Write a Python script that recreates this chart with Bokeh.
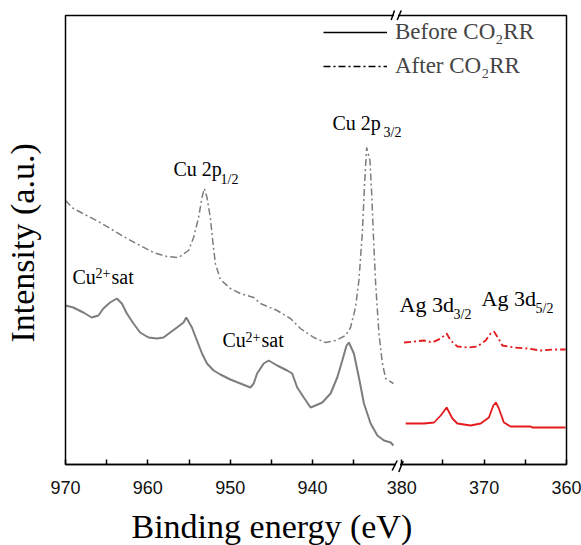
import numpy as np
from bokeh.plotting import figure
from bokeh.models import (FixedTicker, Label, Legend, LegendItem, Range1d, Arrow,
                          BoxAnnotation, CustomJSTickFormatter)
from bokeh.core.properties import value
from bokeh.embed import file_html
from bokeh.resources import INLINE

# ---------------- data ----------------
# Cu 2p region, before CO2RR (solid)
cu_before_be = [970.0, 969.05, 967.83, 966.81, 966.01, 965.40, 964.59, 963.77, 963.16, 962.55,
                961.75, 960.94, 959.93, 958.91, 958.10, 957.29, 956.47, 955.67, 955.34, 954.65,
                954.04, 953.43, 952.82, 952.02, 951.20, 949.99, 948.77, 947.55, 947.15, 946.74,
                945.94, 945.33, 944.31, 943.09, 942.48, 941.87, 941.07, 940.25, 939.65, 938.83,
                937.82, 937.01, 936.40, 935.88, 935.60, 934.99, 934.38, 933.77, 932.96, 932.14,
                931.34, 930.52, 930.19]
cu_before_int = [159, 157, 152, 147, 149, 156, 162, 166, 161, 151,
                 141, 132, 127, 126, 127, 132, 137, 142, 147, 137,
                 124, 111, 101, 94, 90, 85, 81, 77, 81, 91,
                 101, 104, 99, 94, 91, 77, 67, 57, 59, 62,
                 71, 87, 104, 119, 122, 111, 87, 61, 41, 29,
                 24, 22, 19]

# Cu 2p region, after CO2RR (dash-dot)
cu_after_be = [970.0, 969.05, 967.42, 965.80, 964.18, 962.55, 960.94, 959.32, 957.69, 956.28,
               955.06, 954.45, 953.84, 953.43, 953.15, 952.82, 952.42, 952.09, 951.81, 951.20,
               949.99, 948.77, 947.15, 946.34, 944.31, 942.69, 941.48, 939.85, 938.43, 937.22,
               936.00, 935.40, 934.79, 934.38, 933.97, 933.69, 933.44, 933.04, 932.83, 932.63,
               932.35, 931.95, 931.53, 931.13, 930.19]
cu_after_int = [264, 256, 249, 242, 234, 226, 219, 212, 208, 207,
                214, 227, 247, 267, 276, 267, 247, 221, 201, 185,
                176, 171, 167, 161, 154, 146, 136, 127, 122, 124,
                129, 137, 157, 184, 231, 281, 317, 304, 271, 231,
                181, 131, 101, 86, 81]

# Ag 3d region, before CO2RR (solid)
ag_before_be = [379.52, 377.30, 376.08, 375.27, 374.55, 373.85, 373.25, 371.64, 370.42, 369.42,
                368.88, 368.57, 368.21, 367.60, 366.79, 364.36, 364.16, 360.12]
ag_before_int = [41, 41, 42, 49, 57, 46, 41, 39, 41, 47,
                 59, 62, 56, 42, 38, 38, 37, 37]

# Ag 3d region, after CO2RR (dash-dot)
ag_after_be = [379.72, 378.51, 377.30, 376.28, 375.27, 374.55, 374.06, 373.25, 372.04, 370.82,
               369.82, 369.21, 368.81, 368.33, 367.79, 366.38, 364.76, 363.15, 361.52, 360.10]
ag_after_int = [122, 123, 124, 122, 126, 131, 124, 118, 117, 118,
                124, 131, 133, 127, 119, 117, 116, 114, 115, 115]

x_tick_values = [970, 960, 950, 940, 380, 370, 360]
x_tick_labels = ["970", "960", "950", "940", "380", "370", "360"]
x_minor_values = [965, 955, 945, 935, 375, 365]

series_labels = ["Before CO\u2082RR", "After CO\u2082RR"]
x_title = "Binding energy (eV)"
y_title = "Intensity (a.u.)"

# ---------------- layout ----------------
W, H = 581, 545
FL, FR, FT, FB = 65, 566, 15, 464  # plot-box edges in page pixels

CU_START, CU_END = 970.0, 929.67   # left segment of broken axis
AG_START, AG_END = 380.49, 360.0   # right segment of broken axis
SEG = CU_START - CU_END
X_MAX = SEG + (AG_START - AG_END)
Y_MAX = float(FB - FT)             # intensity units = pixels of the box
PXU = (FR - FL) / X_MAX            # pixels per axis unit


def axis_pos(e):
    """Map binding energy onto the broken (two-segment) axis."""
    e = np.asarray(e, dtype=float)
    return np.where(e > 600, CU_START - e, SEG + (AG_START - e))


def sx(px):
    return (px - FL) / PXU


def sy(py):
    return FB - py


GRAY = "#7d7d7d"
RED = "#e41a1c"
DASHDOT = "7 3 2 3"
SERIF = "Times New Roman"

# the frame spans the whole canvas; the plot box is drawn inside it
p = figure(width=W, height=H, output_backend="svg", toolbar_location=None, title=None,
           x_range=Range1d(sx(0), sx(W)), y_range=Range1d(sy(H), sy(0)),
           min_border=0)
p.background_fill_color = "white"
p.border_fill_color = "white"
p.outline_line_color = None
p.xgrid.visible = False
p.ygrid.visible = False
p.yaxis.visible = False

# plot box
p.add_layout(BoxAnnotation(left=0, right=X_MAX, bottom=0, top=Y_MAX, fill_alpha=0,
                           line_color="black", line_width=1.5, line_alpha=1))

# curves
p.line(axis_pos(cu_before_be), cu_before_int, line_color=GRAY, line_width=2)
p.line(axis_pos(cu_after_be), cu_after_int, line_color=GRAY, line_width=1.5, line_dash=DASHDOT)
p.line(axis_pos(ag_before_be), ag_before_int, line_color=RED, line_width=1.8)
p.line(axis_pos(ag_after_be), ag_after_int, line_color=RED, line_width=1.8, line_dash=DASHDOT)

# x axis, fixed at the bottom of the box
tick_pos = [float(v) for v in axis_pos(x_tick_values)]
xa = p.xaxis[0]
xa.fixed_location = 0
xa.bounds = (0, X_MAX)
xa.ticker = FixedTicker(ticks=tick_pos,
                        minor_ticks=[float(v) for v in axis_pos(x_minor_values)])
xa.formatter = CustomJSTickFormatter(args=dict(pos=tick_pos, lab=x_tick_labels), code="""
    let best = 0;
    for (let i = 0; i < pos.length; i++) {
        if (Math.abs(pos[i] - tick) < Math.abs(pos[best] - tick)) best = i;
    }
    return lab[best];
""")
xa.axis_line_color = "black"
xa.axis_line_width = 1.5
xa.major_tick_in = 5
xa.major_tick_out = 0
xa.minor_tick_in = 5
xa.minor_tick_out = 0
xa.major_tick_line_width = 1.5
xa.minor_tick_line_width = 1.5
xa.major_label_text_font = "Liberation Sans"
xa.major_label_text_font_size = "18px"
xa.major_label_text_color = "#111111"
xa.major_label_standoff = 16

# legend (black samples, as in the reference)
leg_b = p.line([np.nan], [np.nan], line_color="black", line_width=1.5)
leg_a = p.line([np.nan], [np.nan], line_color="black", line_width=1.5, line_dash=DASHDOT)
legend = Legend(items=[LegendItem(label=value(series_labels[0]), renderers=[leg_b]),
                       LegendItem(label=value(series_labels[1]), renderers=[leg_a])],
                location=(323, H - 79), glyph_width=64, glyph_height=26,
                label_height=26, label_standoff=8, spacing=8, padding=0, margin=0,
                border_line_alpha=0, background_fill_alpha=0,
                label_text_font=SERIF, label_text_font_size="23px")
p.add_layout(legend)


def label(px, py, text, size="20px", font=SERIF, **kw):
    p.add_layout(Label(x=sx(px), y=sy(py), text=text, text_font=font, text_font_size=size,
                       text_color="black", **kw))


# axis titles
p.text(x=[sx(131)], y=[sy(526)], text=[x_title], text_font=value(SERIF),
       text_font_size=value("34px"), text_color="black", text_baseline="alphabetic",
       text_align="left")
label(40, 342, y_title, "34px", angle=np.pi / 2)

# peak annotations (main text + sub/superscripts)
label(173, 179, "Cu 2p")
label(220, 186, "1/2", "14px")
label(332, 133, "Cu 2p")
label(383, 139, "3/2", "14px")
label(72, 287, "Cu")
label(95, 277, "2+", "14px")
label(111, 287, "sat")
label(222, 350, "Cu")
label(245, 341, "2+", "14px")
label(261, 350, "sat")
label(399, 316, "Ag 3d", "22px")
label(453, 321, "3/2", "14px")
label(481, 310, "Ag 3d", "22px")
label(535, 315, "5/2", "14px")


# axis-break marks
def seg(x0, y0, x1, y1, color="black", width=1.5):
    p.add_layout(Arrow(end=None, x_start=sx(x0), y_start=sy(y0), x_end=sx(x1), y_end=sy(y1),
                       line_color=color, line_width=width))


seg(395.5, 464, 399.5, 464, "white", 4)
seg(393.5, 15, 397.5, 15, "white", 4)
seg(391.7, 470, 396.7, 460)
seg(398.3, 471.5, 402.7, 460.5)
seg(390.7, 19.5, 394, 10)
seg(396.7, 19.5, 400.7, 10)

open("out.html", "w").write(file_html(p, INLINE))
